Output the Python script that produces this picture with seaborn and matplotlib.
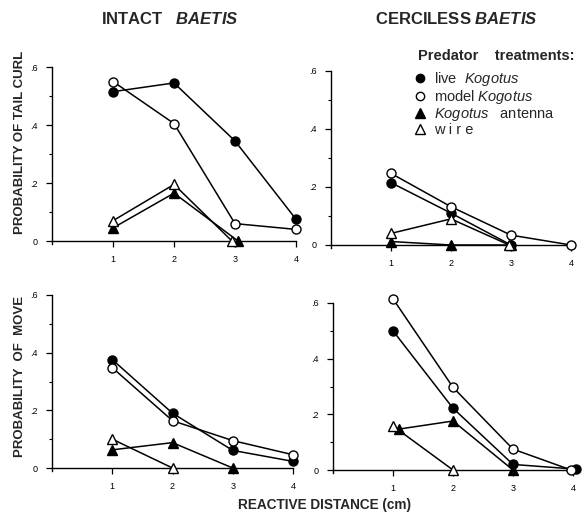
import matplotlib
matplotlib.use("Agg")
import matplotlib.pyplot as plt
from matplotlib.lines import Line2D
from matplotlib.ticker import FixedLocator, FixedFormatter
import seaborn as sns
import pandas as pd

sns.set_theme(style="white")
plt.rcParams['font.family'] = ['Liberation Sans', 'DejaVu Sans']
plt.rcParams['mathtext.fontset'] = 'custom'
plt.rcParams['mathtext.it'] = 'Liberation Sans:italic'
plt.rcParams['mathtext.bf'] = 'Liberation Sans:bold:italic'
plt.rcParams['mathtext.rm'] = 'Liberation Sans'

# ---------------- data ----------------
treatments = ["live", "model", "antenna", "wire"]
x_ticks = [1, 2, 3, 4]
y_ticks = [0, 0.2, 0.4, 0.6]
y_tick_labels = ["0", ".2", ".4", ".6"]

# Intact Baetis - tail curl
tc_intact_live_x = [1, 2, 3, 4]
tc_intact_live_y = [0.515, 0.545, 0.345, 0.075]
tc_intact_model_x = [1, 2, 3, 4]
tc_intact_model_y = [0.55, 0.405, 0.06, 0.04]
tc_intact_antenna_x = [1, 2, 3.05]
tc_intact_antenna_y = [0.045, 0.165, 0.0]
tc_intact_wire_x = [1, 2, 2.95]
tc_intact_wire_y = [0.07, 0.195, 0.0]

# Cerciless Baetis - tail curl
tc_cerc_live_x = [1, 2, 3]
tc_cerc_live_y = [0.215, 0.11, 0.0]
tc_cerc_model_x = [1, 2, 3, 4]
tc_cerc_model_y = [0.247, 0.132, 0.034, 0.0]
tc_cerc_antenna_x = [1, 2, 3]
tc_cerc_antenna_y = [0.012, 0.0, 0.0]
tc_cerc_wire_x = [1, 2, 2.97]
tc_cerc_wire_y = [0.04, 0.09, 0.0]

# Intact Baetis - move
mv_intact_live_x = [1, 2, 3, 4]
mv_intact_live_y = [0.376, 0.19, 0.061, 0.023]
mv_intact_model_x = [1, 2, 3, 4]
mv_intact_model_y = [0.348, 0.164, 0.095, 0.046]
mv_intact_antenna_x = [1, 2, 3]
mv_intact_antenna_y = [0.063, 0.088, 0.0]
mv_intact_wire_x = [1, 2]
mv_intact_wire_y = [0.10, 0.0]

# Cerciless Baetis - move
mv_cerc_live_x = [1, 2, 3, 4.05]
mv_cerc_live_y = [0.50, 0.222, 0.02, 0.003]
mv_cerc_model_x = [1, 2, 3, 3.97]
mv_cerc_model_y = [0.615, 0.297, 0.075, 0.0]
mv_cerc_antenna_x = [1.1, 2, 3]
mv_cerc_antenna_y = [0.147, 0.176, 0.0]
mv_cerc_wire_x = [1, 2]
mv_cerc_wire_y = [0.158, 0.0]

panels = {
    "tl": [(tc_intact_live_x, tc_intact_live_y), (tc_intact_model_x, tc_intact_model_y),
           (tc_intact_antenna_x, tc_intact_antenna_y), (tc_intact_wire_x, tc_intact_wire_y)],
    "tr": [(tc_cerc_live_x, tc_cerc_live_y), (tc_cerc_model_x, tc_cerc_model_y),
           (tc_cerc_antenna_x, tc_cerc_antenna_y), (tc_cerc_wire_x, tc_cerc_wire_y)],
    "bl": [(mv_intact_live_x, mv_intact_live_y), (mv_intact_model_x, mv_intact_model_y),
           (mv_intact_antenna_x, mv_intact_antenna_y), (mv_intact_wire_x, mv_intact_wire_y)],
    "br": [(mv_cerc_live_x, mv_cerc_live_y), (mv_cerc_model_x, mv_cerc_model_y),
           (mv_cerc_antenna_x, mv_cerc_antenna_y), (mv_cerc_wire_x, mv_cerc_wire_y)],
}

styles = {
    "live": dict(marker="o", markerfacecolor="black", markersize=6.5),
    "model": dict(marker="o", markerfacecolor="white", markersize=6.5),
    "antenna": dict(marker="^", markerfacecolor="black", markersize=7.5),
    "wire": dict(marker="^", markerfacecolor="white", markersize=7.5),
}

fig = plt.figure(figsize=(5.84, 5.18), dpi=100)
W, H = 584, 518

def px_axes(left, right, bottom, top):
    return fig.add_axes([left / W, 1 - bottom / H, (right - left) / W, (bottom - top) / H])

axes = {
    "tl": (px_axes(52, 296, 241, 67), 0.6),
    "tr": (px_axes(331, 571, 245, 71), 0.6),
    "bl": (px_axes(52, 293, 468, 295), 0.6),
    "br": (px_axes(333, 573, 470, 303), 0.6),
}

for key, (ax, ytop) in axes.items():
    for name, (xs, ys) in zip(treatments, panels[key]):
        df = pd.DataFrame({"x": xs, "y": ys})
        st = styles[name]
        sns.lineplot(data=df, x="x", y="y", ax=ax, color="black", linewidth=1.1,
                     marker=st["marker"], markersize=st["markersize"],
                     markerfacecolor=st["markerfacecolor"], markeredgecolor="black",
                     markeredgewidth=1.0, clip_on=False, zorder=5, sort=False,
                     estimator=None)
    ax.set_xlim(0, 4)
    ax.set_ylim(0, ytop)
    ax.set_facecolor("none")
    for s in ["top", "right"]:
        ax.spines[s].set_visible(False)
    for s in ["left", "bottom"]:
        ax.spines[s].set_color("black")
        ax.spines[s].set_linewidth(1.0)
    ax.spines["left"].set_bounds(-0.012, ytop)
    ax.spines["left"].set_position(("data", 0))
    ax.xaxis.set_major_locator(FixedLocator(x_ticks))
    ax.set_xticklabels([str(t) for t in x_ticks])
    ax.yaxis.set_major_locator(FixedLocator(y_ticks))
    ax.yaxis.set_major_formatter(FixedFormatter(y_tick_labels))
    ax.yaxis.set_minor_locator(FixedLocator([0.1, 0.3, 0.5]))
    ax.tick_params(axis="both", which="major", direction="out", length=4, width=0.9,
                   labelsize=6.5, colors="black", pad=6, left=True, bottom=True)
    ax.tick_params(axis="y", which="minor", direction="out", length=2, width=0.8,
                   colors="black", left=True)
    ax.set_xlabel("")
    ax.set_ylabel("")
    ax.grid(False)

# titles
fig.text(170 / W, 1 - 19 / H, r"INTACT   $\mathbf{BAETIS}$", ha="center", va="center",
         fontsize=12, fontweight="bold")
fig.text(456 / W, 1 - 19 / H, r"CERCILESS $\mathbf{BAETIS}$", ha="center", va="center",
         fontsize=12, fontweight="bold")

# y labels
fig.text(20 / W, 1 - 142 / H, "PROBABILITY OF TAIL CURL", rotation=90, ha="center",
         va="center", fontsize=9.5, fontweight="bold")
fig.text(20 / W, 1 - 376 / H, "PROBABILITY  OF  MOVE", rotation=90, ha="center",
         va="center", fontsize=9.5, fontweight="bold")

# x label
fig.text(325 / W, 1 - 505 / H, "REACTIVE DISTANCE (cm)", ha="center", va="center",
         fontsize=9.8, fontweight="bold")

# legend
fig.text(418 / W, 1 - 56 / H, "Predator    treatments:", ha="left",
         va="center", fontsize=10.5, fontweight="bold")
handles = [Line2D([], [], linestyle="none", color="black", markeredgecolor="black",
                  marker=styles[n]["marker"], markerfacecolor=styles[n]["markerfacecolor"],
                  markersize=styles[n]["markersize"] - 0.5)
           for n in treatments]
labels = [r"live  $\mathit{Kogotus}$", r"model $\mathit{Kogotus}$",
          r"$\mathit{Kogotus}$   antenna", "w i r e"]
axes["tr"][0].legend(handles, labels, loc="upper left",
                     bbox_to_anchor=(414 / W, 1 - 70 / H), bbox_transform=fig.transFigure,
                     frameon=False, fontsize=10.5, handlelength=0.8, handletextpad=0.6,
                     labelspacing=0.0, borderpad=0, borderaxespad=0)

fig.savefig("out.png", dpi=100)
